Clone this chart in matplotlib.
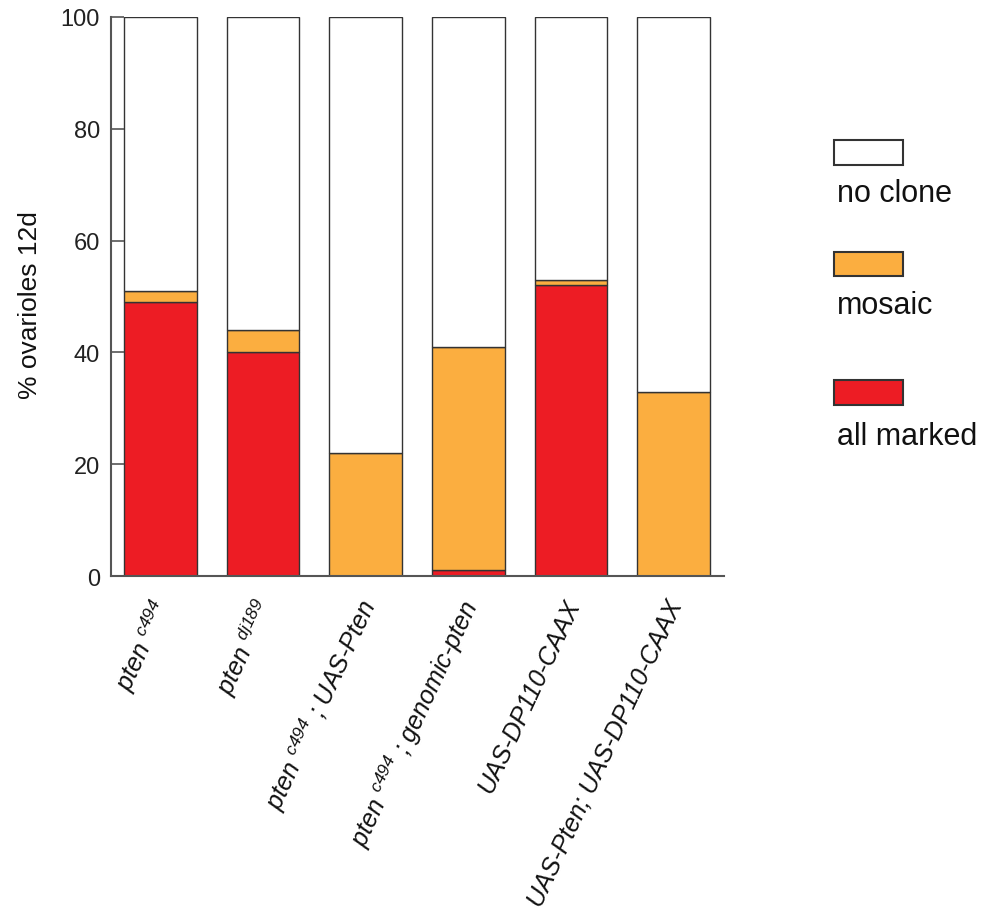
import matplotlib.pyplot as plt
from matplotlib.patches import Rectangle
import numpy as np

plt.rcParams['font.family'] = ['Liberation Sans', 'DejaVu Sans']
plt.rcParams['mathtext.fontset'] = 'custom'
plt.rcParams['mathtext.rm'] = 'Liberation Sans:italic'
plt.rcParams['mathtext.it'] = 'Liberation Sans:italic'

genotypes = [
    r"pten $^{c494}$",
    r"pten $^{dj189}$",
    r"pten $^{c494}$ ; UAS-Pten",
    r"pten $^{c494}$ ; genomic-pten",
    "UAS-DP110-CAAX",
    "UAS-Pten; UAS-DP110-CAAX",
]
all_marked = np.array([49, 40, 0, 1, 52, 0])
mosaic = np.array([2, 4, 22, 40, 1, 33])
no_clone = 100 - all_marked - mosaic

red = '#ED1C24'
orange = '#FBAE40'
edge = '#333333'

fig = plt.figure(figsize=(9.85, 9.12), dpi=100)
ax = fig.add_axes([0.1127, 0.3673, 0.6223, 0.613])

x = np.arange(len(genotypes))
w = 0.71
ax.bar(x, all_marked, w, color=red, edgecolor=edge, linewidth=1.0)
ax.bar(x, mosaic, w, bottom=all_marked, color=orange, edgecolor=edge, linewidth=1.0)
ax.bar(x, no_clone, w, bottom=all_marked + mosaic, color='white', edgecolor=edge, linewidth=1.0)

ax.set_xlim(-0.48, 5.49)
ax.set_ylim(0, 100)
ax.set_yticks(range(0, 101, 20))
ax.tick_params(axis='y', direction='in', length=9.5, width=1.2, color='#555555',
               labelsize=17, labelcolor='#222222', pad=8)
ax.tick_params(axis='x', length=0, pad=17)
ax.set_xticks(x)
ax.set_xticklabels(genotypes, rotation=65, ha='right', va='center_baseline',
                   rotation_mode='anchor', fontsize=18, fontstyle='italic',
                   color='#111111')
for side in ['top', 'right']:
    ax.spines[side].set_visible(False)
for side in ['left', 'bottom']:
    ax.spines[side].set_color('#555555')
    ax.spines[side].set_linewidth(1.5)
ax.set_ylabel('% ovarioles 12d', fontsize=19, color='#111111')
ax.yaxis.set_label_coords(-0.1126, 0.487)

# legend: swatch above each label
legend_items = [('no clone', 'white', 0.818, 0.787),
                ('mosaic', orange, 0.696, 0.664),
                ('all marked', red, 0.555, 0.521)]
for label, color, sy, ty in legend_items:
    fig.add_artist(Rectangle((0.847, sy), 0.070, 0.027, transform=fig.transFigure,
                             facecolor=color, edgecolor=edge, linewidth=1.5))
    fig.text(0.850, ty, label, fontsize=22, color='#111111', va='center', ha='left')

fig.savefig('out.png', dpi=100)
